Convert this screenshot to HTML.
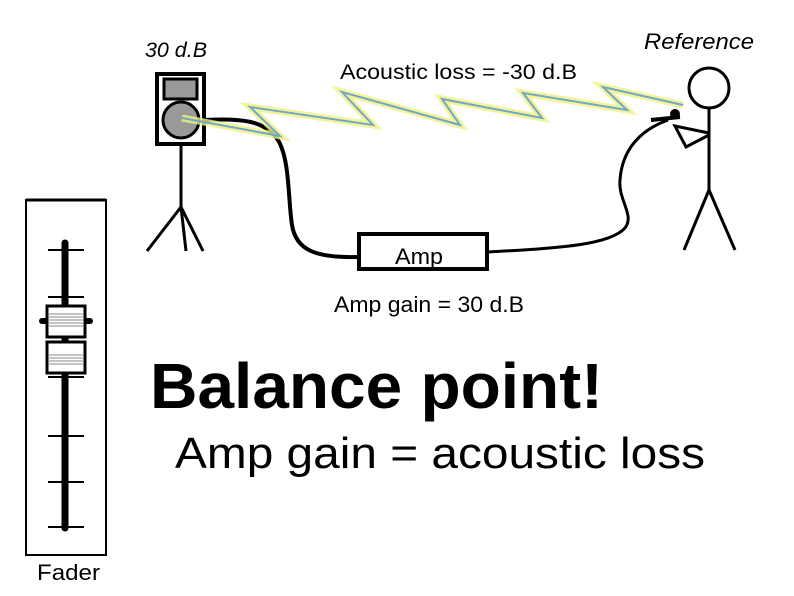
<!DOCTYPE html>
<html><head><meta charset="utf-8"><style>
html,body{margin:0;padding:0;background:#fff;width:794px;height:596px;overflow:hidden}
svg{display:block}
text{font-family:"Liberation Sans",Arial,sans-serif;fill:#000}
</style></head><body>
<svg width="794" height="596" viewBox="0 0 794 596" xmlns="http://www.w3.org/2000/svg">
<!-- fader -->
<rect x="26" y="200" width="80" height="355" fill="none" stroke="#000" stroke-width="2"/>
<line x1="26" y1="200" x2="106" y2="200" stroke="#000" stroke-width="3"/>
<line x1="65" y1="243" x2="65" y2="528" stroke="#000" stroke-width="7" stroke-linecap="round"/>
<g stroke="#000" stroke-width="2">
<line x1="48" y1="250" x2="84" y2="250"/><line x1="48" y1="297" x2="84" y2="297"/>
<line x1="48" y1="377" x2="84" y2="377"/><line x1="48" y1="436" x2="84" y2="436"/>
<line x1="48" y1="482" x2="84" y2="482"/><line x1="48" y1="527" x2="84" y2="527"/>
</g>
<line x1="42" y1="321" x2="90" y2="321" stroke="#000" stroke-width="6" stroke-linecap="round"/>
<rect x="47" y="306" width="38" height="31" fill="#fff" stroke="#000" stroke-width="3"/>
<rect x="47" y="342" width="38" height="31" fill="#fff" stroke="#000" stroke-width="3"/>
<g stroke="#888" stroke-width="1">
<line x1="49" y1="314" x2="83" y2="314"/><line x1="49" y1="317" x2="83" y2="317"/><line x1="49" y1="320" x2="83" y2="320"/><line x1="49" y1="323" x2="83" y2="323"/><line x1="49" y1="326" x2="83" y2="326"/>
<line x1="49" y1="355" x2="83" y2="355"/><line x1="49" y1="358" x2="83" y2="358"/><line x1="49" y1="361" x2="83" y2="361"/><line x1="49" y1="364" x2="83" y2="364"/>
</g>
<text x="37" y="580" font-size="22" textLength="63" lengthAdjust="spacingAndGlyphs">Fader</text>
<!-- speaker -->
<rect x="157" y="74" width="47" height="70" fill="#fff" stroke="#000" stroke-width="4"/>
<rect x="164" y="79" width="33" height="20" fill="#999" stroke="#000" stroke-width="3"/>
<circle cx="181" cy="120" r="18" fill="#999" stroke="#000" stroke-width="3"/>
<g stroke="#000" stroke-width="3" fill="none">
<line x1="181" y1="144" x2="181" y2="207"/>
<line x1="181" y1="207" x2="147" y2="251"/><line x1="181" y1="207" x2="186" y2="251"/><line x1="181" y1="207" x2="203" y2="251"/>
</g>
<text x="145" y="57" font-size="21" font-style="italic" textLength="62" lengthAdjust="spacingAndGlyphs">30 d.B</text>
<!-- cables -->
<path d="M204,120 C240,118 265,120 278,140 C290,160 288,200 292,225 C296,250 315,258 358,257" fill="none" stroke="#000" stroke-width="4"/>
<path d="M488,252 C560,248 610,245 625,228 C635,215 618,200 620,180 C622,150 640,130 668,120" fill="none" stroke="#000" stroke-width="3"/>
<rect x="359" y="234" width="128" height="35" fill="#fff" stroke="#000" stroke-width="4"/>
<text x="395" y="264" font-size="22" textLength="48" lengthAdjust="spacingAndGlyphs">Amp</text>
<text x="334" y="312" font-size="22" textLength="190" lengthAdjust="spacingAndGlyphs">Amp gain = 30 d.B</text>
<!-- lightning -->
<polyline points="182,118 280,136 250,107 373,125 342,92 460,125 442,99 542,118 523,93 627,110 603,87 683,105" fill="none" stroke="#f0f080" stroke-width="7" stroke-linejoin="miter" opacity="0.8"/>
<polyline points="182,118 280,136 250,107 373,125 342,92 460,125 442,99 542,118 523,93 627,110 603,87 683,105" fill="none" stroke="#6fa8c8" stroke-width="2"/>
<text x="340" y="79" font-size="21" textLength="237" lengthAdjust="spacingAndGlyphs">Acoustic loss = -30 d.B</text>
<text x="644" y="49" font-size="22" font-style="italic" textLength="110" lengthAdjust="spacingAndGlyphs">Reference</text>
<!-- person -->
<g stroke="#000" stroke-width="3" fill="none">
<circle cx="709" cy="88" r="20"/>
<line x1="709" y1="108" x2="709" y2="190"/>
<line x1="709" y1="190" x2="684" y2="250"/><line x1="709" y1="190" x2="735" y2="250"/>
<polyline points="709,135 686,147 675,126 709,133"/>
<line x1="651" y1="120" x2="680" y2="117" stroke-width="4"/>
</g>
<circle cx="675" cy="114" r="5" fill="#000"/>
<!-- big text -->
<text x="150" y="408" font-size="64" font-weight="bold" textLength="453" lengthAdjust="spacingAndGlyphs">Balance point!</text>
<text x="175" y="468" font-size="44" textLength="530" lengthAdjust="spacingAndGlyphs">Amp gain = acoustic loss</text>
</svg>
</body></html>
